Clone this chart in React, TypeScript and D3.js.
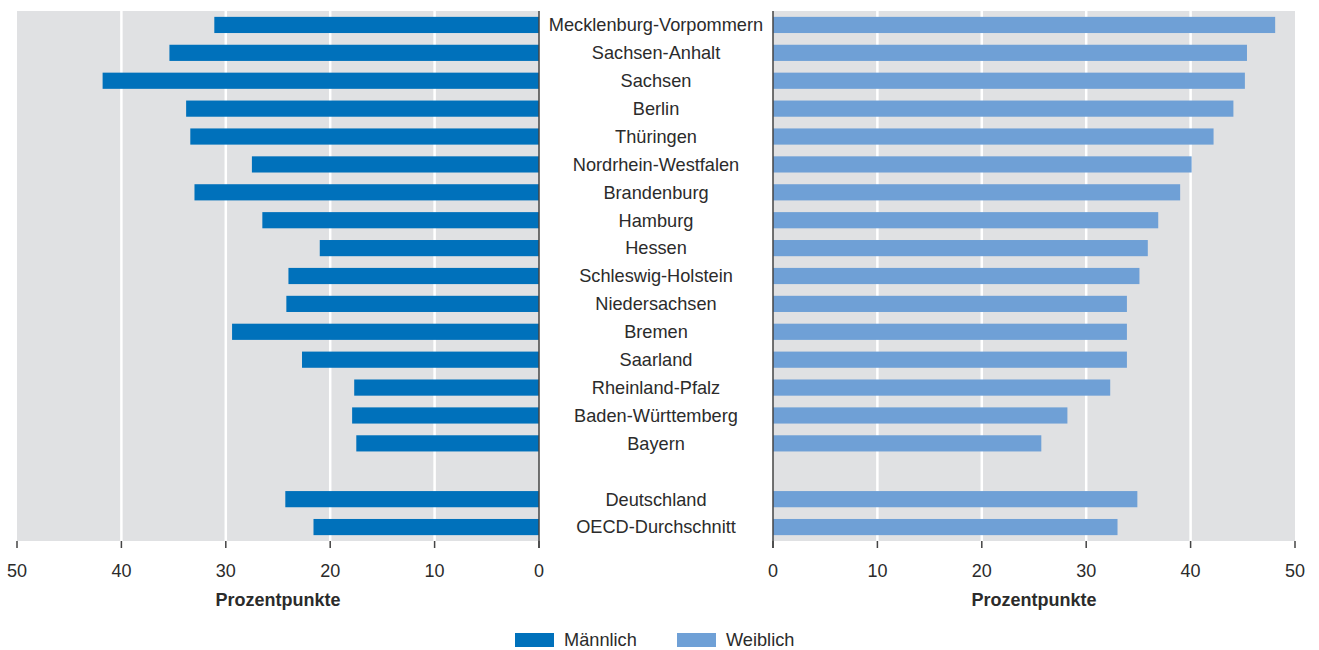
import { useEffect, useRef } from 'react';
import * as d3 from 'd3';

// Kategorien (leerer Eintrag = Abstand vor Deutschland)
const categories = [
  'Mecklenburg-Vorpommern',
  'Sachsen-Anhalt',
  'Sachsen',
  'Berlin',
  'Thüringen',
  'Nordrhein-Westfalen',
  'Brandenburg',
  'Hamburg',
  'Hessen',
  'Schleswig-Holstein',
  'Niedersachsen',
  'Bremen',
  'Saarland',
  'Rheinland-Pfalz',
  'Baden-Württemberg',
  'Bayern',
  '',
  'Deutschland',
  'OECD-Durchschnitt',
];

const maleValues = [
  31.1, 35.4, 41.8, 33.8, 33.4, 27.5, 33.0, 26.5, 21.0, 24.0, 24.2, 29.4, 22.7, 17.7, 17.9, 17.5,
  null, 24.3, 21.6,
];

const femaleValues = [
  48.1, 45.4, 45.2, 44.1, 42.2, 40.1, 39.0, 36.9, 35.9, 35.1, 33.9, 33.9, 33.9, 32.3, 28.2, 25.7,
  null, 34.9, 33.0,
];

const ticks = [0, 10, 20, 30, 40, 50];
const axisTitle = 'Prozentpunkte';
const legendItems = ['Männlich', 'Weiblich'];

const MALE = '#0071bb';
const FEMALE = '#6fa0d6';
const BG = '#e0e1e3';
const TEXT = '#2b2b2b';
const FONT = '"Liberation Sans", Arial, sans-serif';

export default function App() {
  const svgRef = useRef<SVGSVGElement>(null);

  useEffect(() => {
    if (!svgRef.current) return;
    d3.select(svgRef.current).selectAll('*').remove();

    const width = 1319;
    const height = 650;
    const top = 11;
    const bottom = 541;

    const svg = d3.select(svgRef.current).attr('width', width).attr('height', height);

    const y = d3
      .scaleBand<number>()
      .domain(d3.range(categories.length))
      .range([top, bottom])
      .paddingInner(0.42)
      .paddingOuter(0.21);

    const xLeft = d3.scaleLinear().domain([0, 50]).range([539, 17]);
    const xRight = d3.scaleLinear().domain([0, 50]).range([773, 1295]);

    const panels = [
      { x: xLeft, values: maleValues, color: MALE },
      { x: xRight, values: femaleValues, color: FEMALE },
    ];

    panels.forEach(p => {
      const [r0, r1] = p.x.range();
      const xMin = Math.min(r0, r1);
      const xMax = Math.max(r0, r1);
      const g = svg.append('g');

      // Hintergrund
      g.append('rect')
        .attr('x', xMin)
        .attr('y', top)
        .attr('width', xMax - xMin)
        .attr('height', bottom - top)
        .attr('fill', BG);

      // Gitterlinien
      g.selectAll('line.grid')
        .data(ticks.filter(t => t !== 0 && t !== 50))
        .join('line')
        .attr('x1', d => p.x(d))
        .attr('x2', d => p.x(d))
        .attr('y1', top)
        .attr('y2', bottom)
        .attr('stroke', '#ffffff')
        .attr('stroke-width', 2.5);

      // Balken
      g.selectAll('rect.bar')
        .data(p.values.map((v, i) => ({ v, i })).filter(d => d.v != null))
        .join('rect')
        .attr('x', d => Math.min(p.x(0), p.x(d.v as number)))
        .attr('y', d => y(d.i) as number)
        .attr('width', d => Math.abs(p.x(d.v as number) - p.x(0)))
        .attr('height', y.bandwidth())
        .attr('fill', p.color);

      // Nulllinie
      g.append('line')
        .attr('x1', p.x(0))
        .attr('x2', p.x(0))
        .attr('y1', top)
        .attr('y2', bottom + 7)
        .attr('stroke', '#444')
        .attr('stroke-width', 1.5);

      // Ticks
      g.selectAll('line.tick')
        .data(ticks)
        .join('line')
        .attr('x1', d => p.x(d))
        .attr('x2', d => p.x(d))
        .attr('y1', bottom)
        .attr('y2', bottom + 7)
        .attr('stroke', '#444')
        .attr('stroke-width', 1.5);

      g.selectAll('text.tick')
        .data(ticks)
        .join('text')
        .attr('x', d => p.x(d))
        .attr('y', 577)
        .attr('text-anchor', 'middle')
        .attr('font-family', FONT)
        .attr('font-size', '18px')
        .attr('fill', TEXT)
        .text(d => d);

      g.append('text')
        .attr('x', (xMin + xMax) / 2)
        .attr('y', 606)
        .attr('text-anchor', 'middle')
        .attr('font-family', FONT)
        .attr('font-size', '18px')
        .attr('font-weight', 'bold')
        .attr('fill', TEXT)
        .text(axisTitle);
    });

    // Kategorienamen in der Mitte
    svg
      .append('g')
      .selectAll('text')
      .data(categories)
      .join('text')
      .attr('x', 656)
      .attr('y', (d, i) => (y(i) as number) + y.bandwidth() / 2)
      .attr('dy', '0.35em')
      .attr('text-anchor', 'middle')
      .attr('font-family', FONT)
      .attr('font-size', '18.2px')
      .attr('fill', TEXT)
      .text(d => d);

    // Legende
    const legend = svg.append('g');
    const legendX = [515, 677];
    legendItems.forEach((label, i) => {
      legend
        .append('rect')
        .attr('x', legendX[i])
        .attr('y', 633)
        .attr('width', 39)
        .attr('height', 14)
        .attr('fill', i === 0 ? MALE : FEMALE);
      legend
        .append('text')
        .attr('x', legendX[i] + 49)
        .attr('y', 640)
        .attr('dy', '0.35em')
        .attr('font-family', FONT)
        .attr('font-size', '18.2px')
        .attr('fill', TEXT)
        .text(label);
    });
  }, []);

  return (
    <div style={{ position: 'absolute', left: 0, top: 0 }}>
      <svg ref={svgRef}></svg>
    </div>
  );
}
